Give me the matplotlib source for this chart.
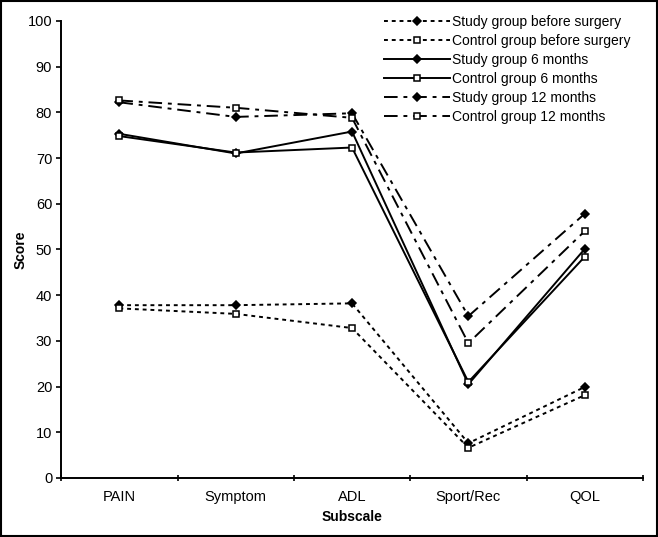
import matplotlib
matplotlib.use("Agg")
import matplotlib.pyplot as plt
import numpy as np

plt.rcParams['font.family'] = ['Liberation Sans', 'DejaVu Sans']

categories = ["PAIN", "Symptom", "ADL", "Sport/Rec", "QOL"]
study_before = [37.8, 37.8, 38.2, 7.6, 19.9]
control_before = [37.1, 35.9, 32.8, 6.6, 18.1]
study_6m = [75.3, 71.0, 75.8, 20.5, 50.1]
control_6m = [74.8, 71.2, 72.3, 21.0, 48.4]
study_12m = [82.2, 79.0, 79.8, 35.4, 57.8]
control_12m = [82.6, 81.0, 78.8, 29.5, 54.0]

series = [
    ("Study group before surgery", study_before, (0, (2, 2)), 'D', 'black'),
    ("Control group before surgery", control_before, (0, (2, 2)), 's', 'white'),
    ("Study group 6 months", study_6m, '-', 'D', 'black'),
    ("Control group 6 months", control_6m, '-', 's', 'white'),
    ("Study group 12 months", study_12m, (0, (7, 3, 2, 3)), 'D', 'black'),
    ("Control group 12 months", control_12m, (0, (7, 3, 2, 3)), 's', 'white'),
]

fig = plt.figure(figsize=(6.58, 5.37), dpi=100)
ax = fig.add_axes([0.093, 0.110, 0.884, 0.851])
x = np.arange(len(categories))
for label, vals, ls, mk, fc in series:
    ax.plot(x, vals, linestyle=ls, color='black', linewidth=1.4,
            marker=mk, markersize=4.3 if mk == 'D' else 4.0,
            markerfacecolor=fc, markeredgecolor='black', markeredgewidth=1.1,
            label=label)

ax.set_xlim(-0.5, len(categories) - 0.5)
ax.set_ylim(0, 100)
ax.set_yticks(np.arange(0, 101, 10))
ax.set_xticks(x)
ax.set_xticklabels(categories, fontsize=10.5)
ax.set_xticks(np.arange(-0.5, len(categories), 1), minor=True)
ax.tick_params(axis='x', which='major', length=0, pad=9)
ax.tick_params(axis='x', which='minor', length=5, width=1.2, direction='inout')
ax.tick_params(axis='y', length=3.5, width=1.2, direction='out', labelsize=10.5, pad=3)
for s in ['top', 'right']:
    ax.spines[s].set_visible(False)
for s in ['left', 'bottom']:
    ax.spines[s].set_linewidth(1.4)
ax.set_xlabel("Subscale", fontsize=10, fontweight='bold', labelpad=4)
ax.set_ylabel("Score", fontsize=10, fontweight='bold', labelpad=0)

leg = ax.legend(loc='upper right', bbox_to_anchor=(1.0, 1.04), frameon=False,
                fontsize=10, handlelength=4.8, handletextpad=0.1,
                labelspacing=0.36)

fig.patches.append(plt.Rectangle((0.002, 0.002), 0.996, 0.996, transform=fig.transFigure,
                                 fill=False, edgecolor='black', linewidth=1.5))
fig.savefig("out.png", dpi=100)
